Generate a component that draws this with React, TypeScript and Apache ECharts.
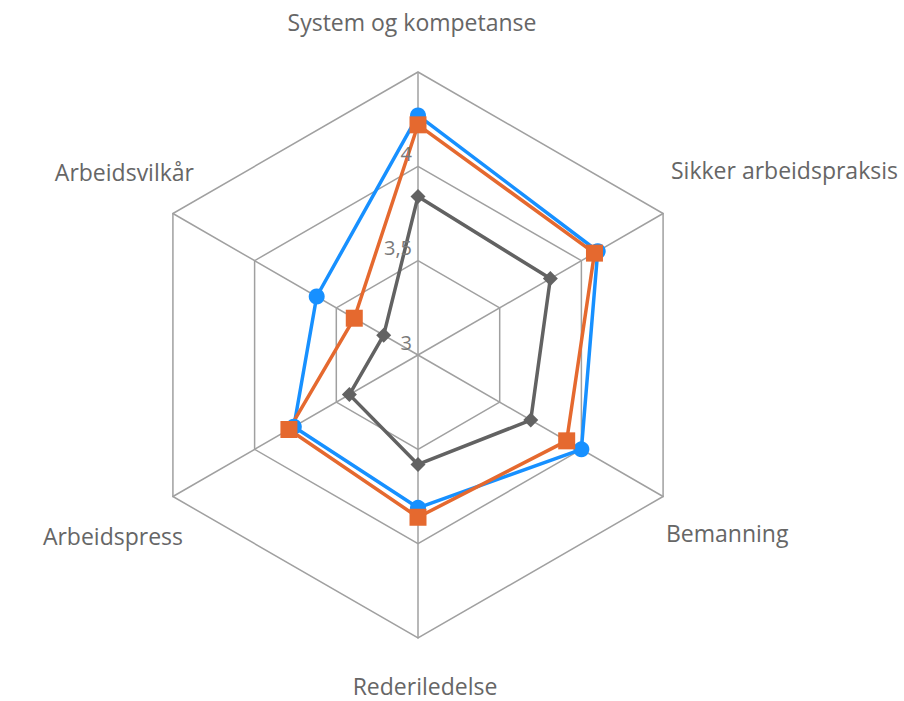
import React, { useEffect, useRef } from "react";
import * as echarts from "echarts";

// Indicators in clockwise order starting from the top
const indicators = [
  "System og kompetanse",
  "Sikker arbeidspraksis",
  "Bemanning",
  "Rederiledelse",
  "Arbeidspress",
  "Arbeidsvilkår",
];
const seriesBlue = [4.27, 4.1, 4.0, 3.81, 3.76, 3.62];
const seriesOrange = [4.22, 4.08, 3.91, 3.86, 3.79, 3.39];
const seriesGrey = [3.84, 3.81, 3.69, 3.58, 3.42, 3.21];
const tickValues = [3, 3.5, 4];
const tickLabels = ["3", "3,5", "4"];
const axisMin = 3;
const axisMax = 4.5;

const CX = 418;
const CY = 355;
const R = 283;
const FONT = "'Open Sans', 'Noto Sans', sans-serif";

// ECharts lays radar indicators counter-clockwise; reorder to clockwise
const order = [0, 5, 4, 3, 2, 1];
const reorder = (arr: any[]) => order.map((i) => arr[i]);

// label placement (anchor, alignment) per indicator, clockwise order
const namePlacement: { x: number; y: number; align: string }[] = [
  { x: 412, y: 22, align: "center" },
  { x: 671, y: 170, align: "left" },
  { x: 666, y: 533, align: "left" },
  { x: 425, y: 686, align: "center" },
  { x: 183, y: 536, align: "right" },
  { x: 194, y: 172, align: "right" },
];

export default function App() {
  const ref = useRef<HTMLDivElement>(null);
  useEffect(() => {
    if (!ref.current) return;
    const chart = echarts.init(ref.current, undefined, { renderer: "svg" });
    const nameTexts = indicators.map((name, i) => ({
      type: "text",
      x: namePlacement[i].x,
      y: namePlacement[i].y,
      silent: true,
      style: {
        text: name,
        fill: "#666666",
        font: `23px ${FONT}`,
        textAlign: namePlacement[i].align,
        textVerticalAlign: "middle",
      },
    }));
    const tickTexts = tickValues.map((v, i) => ({
      type: "text",
      x: CX - 6,
      y: CY - ((v - axisMin) / (axisMax - axisMin)) * R - 13,
      silent: true,
      z: 100,
      style: {
        text: tickLabels[i],
        fill: "#7a7a7a",
        font: `20px ${FONT}`,
        textAlign: "right",
        textVerticalAlign: "middle",
      },
    }));
    const mk = (name: string, data: number[], color: string, symbol: string, size: number) => ({
      type: "radar",
      name,
      symbol,
      symbolSize: size,
      lineStyle: { color, width: 3.5 },
      itemStyle: { color },
      data: [{ value: reorder(data), name }],
    });
    chart.setOption({
      animation: false,
      radar: {
        center: [CX, CY],
        radius: R,
        startAngle: 90,
        splitNumber: 3,
        shape: "polygon",
        indicator: reorder(indicators).map((name: string) => ({ name, min: axisMin, max: axisMax })),
        axisName: { show: false },
        axisLine: { lineStyle: { color: "#a0a0a0", width: 1.5 } },
        splitLine: { lineStyle: { color: "#a0a0a0", width: 1.5 } },
        splitArea: { show: false },
        axisTick: { show: false },
        axisLabel: { show: false },
      },
      series: [
        mk("Serie 1", seriesBlue, "#1790FF", "circle", 16),
        mk("Serie 2", seriesOrange, "#E5692F", "rect", 17),
        mk("Serie 3", seriesGrey, "#626262", "diamond", 15),
      ],
      graphic: [...nameTexts, ...tickTexts],
    });
    return () => chart.dispose();
  }, []);
  return (
    <div
      ref={ref}
      style={{ position: "absolute", left: 0, top: 0, width: 904, height: 701, background: "#fff" }}
    />
  );
}
